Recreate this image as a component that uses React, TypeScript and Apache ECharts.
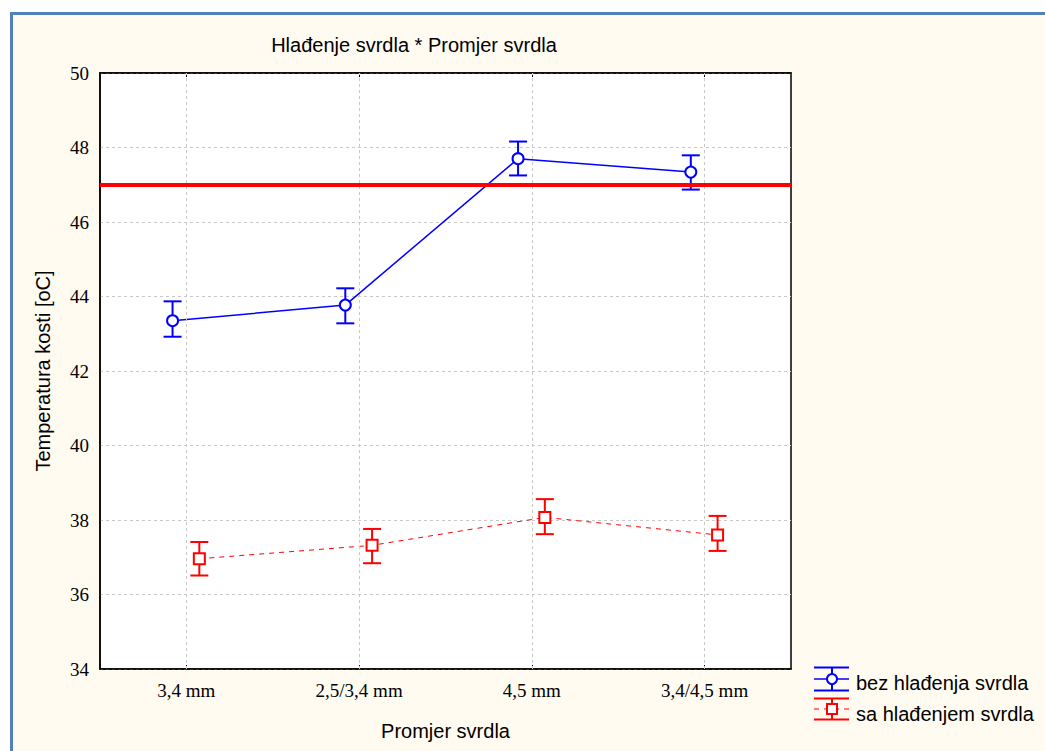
import React, { useEffect, useRef } from "react";
import * as echarts from "echarts";

const categories = ["3,4 mm", "2,5/3,4 mm", "4,5 mm", "3,4/4,5 mm"];
const bezMean = [43.35, 43.77, 47.7, 47.34];
const bezLow = [42.92, 43.28, 47.25, 46.87];
const bezHigh = [43.87, 44.22, 48.16, 47.79];
const saMean = [36.96, 37.32, 38.07, 37.6];
const saLow = [36.51, 36.84, 37.62, 37.17];
const saHigh = [37.41, 37.76, 38.56, 38.11];
const referenceLine = 47;
const yMin = 34;
const yMax = 50;
const yInterval = 2;
const seriesNames = ["bez hlađenja svrdla", "sa hlađenjem svrdla"];
const titleText = "Hlađenje svrdla * Promjer svrdla";
const xName = "Promjer svrdla";
const yName = "Temperatura kosti [oC]";

const BLUE = "#0000ff";
const RED = "#ff0000";
const CREAM = "#fffbf0";
const FRAME = "#4f81bd";
const GRIDC = "#c8c8c8";

const BLUE_OFF = -0.08;
const RED_OFF = 0.075;

function errRender(color: string) {
  return (params: any, api: any) => {
    const x = api.value(0);
    const lo = api.value(1);
    const hi = api.value(2);
    const pLo = api.coord([x, lo]);
    const pHi = api.coord([x, hi]);
    const w = 9;
    const style = { stroke: color, lineWidth: 2 };
    return {
      type: "group",
      children: [
        { type: "line", shape: { x1: pLo[0], y1: pLo[1], x2: pHi[0], y2: pHi[1] }, style },
        { type: "line", shape: { x1: pLo[0] - w, y1: pLo[1], x2: pLo[0] + w, y2: pLo[1] }, style },
        { type: "line", shape: { x1: pHi[0] - w, y1: pHi[1], x2: pHi[0] + w, y2: pHi[1] }, style },
      ],
    };
  };
}

export default function App() {
  const ref = useRef<HTMLDivElement>(null);
  useEffect(() => {
    document.body.style.margin = "0";
    const chart = echarts.init(ref.current!, null, { renderer: "svg" });
    const xs = categories.map((_, i) => i + 0.5);
    const bezPts = bezMean.map((v, i) => [xs[i] + BLUE_OFF, v]);
    const saPts = saMean.map((v, i) => [xs[i] + RED_OFF, v]);
    const bezErr = bezMean.map((_, i) => [xs[i] + BLUE_OFF, bezLow[i], bezHigh[i]]);
    const saErr = saMean.map((_, i) => [xs[i] + RED_OFF, saLow[i], saHigh[i]]);

    const lx = 814;
    const lc = 832;
    const legendFont = { fontFamily: "Liberation Sans", fontSize: 20, fill: "#000", verticalAlign: "middle" };
    const legend = [
      // blue
      { type: "line", shape: { x1: lx, y1: 667.5, x2: lx + 35, y2: 667.5 }, style: { stroke: BLUE, lineWidth: 2 } },
      { type: "line", shape: { x1: lx, y1: 679, x2: lx + 35, y2: 679 }, style: { stroke: BLUE, lineWidth: 1.5 } },
      { type: "line", shape: { x1: lx, y1: 690.5, x2: lx + 35, y2: 690.5 }, style: { stroke: BLUE, lineWidth: 2 } },
      { type: "line", shape: { x1: lc, y1: 667.5, x2: lc, y2: 690.5 }, style: { stroke: BLUE, lineWidth: 2 } },
      { type: "circle", shape: { cx: lc, cy: 679, r: 5 }, style: { fill: "#fff", stroke: BLUE, lineWidth: 2 } },
      { type: "text", x: 856, y: 683, style: { text: seriesNames[0], ...legendFont } },
      // red
      { type: "line", shape: { x1: lx, y1: 698.5, x2: lx + 35, y2: 698.5 }, style: { stroke: RED, lineWidth: 2 } },
      { type: "line", shape: { x1: lx, y1: 709, x2: lx + 35, y2: 709 }, style: { stroke: RED, lineWidth: 1, lineDash: [5, 5] } },
      { type: "line", shape: { x1: lx, y1: 719.5, x2: lx + 35, y2: 719.5 }, style: { stroke: RED, lineWidth: 2 } },
      { type: "line", shape: { x1: lc, y1: 698.5, x2: lc, y2: 719.5 }, style: { stroke: RED, lineWidth: 2 } },
      { type: "rect", shape: { x: lc - 5, y: 704, width: 10, height: 10 }, style: { fill: "#fff", stroke: RED, lineWidth: 2 } },
      { type: "text", x: 856, y: 714, style: { text: seriesNames[1], ...legendFont } },
    ].map((e: any) => ({ ...e, z: 100 }));

    chart.setOption({
      animation: false,
      backgroundColor: "#ffffff",
      title: {
        text: titleText,
        left: 409,
        top: 30,
        textAlign: "center",
        textStyle: { fontFamily: "Liberation Sans", fontSize: 20, fontWeight: "normal", color: "#000" },
      },
      graphic: [
        {
          type: "rect",
          z: -100,
          silent: true,
          shape: { x: 11.5, y: 13.5, width: 1200, height: 900 },
          style: { fill: CREAM, stroke: FRAME, lineWidth: 3 },
        },
        ...legend,
      ],
      grid: {
        left: 100,
        top: 73,
        right: 254,
        bottom: 82,
        show: true,
        backgroundColor: "#ffffff",
        borderColor: "#000",
        borderWidth: 1.5,
        containLabel: false,
      },
      xAxis: [
        {
          type: "category",
          data: categories,
          boundaryGap: true,
          position: "bottom",
          axisLine: { show: true, lineStyle: { color: "#000", width: 1.5 } },
          axisTick: { show: true, inside: true, alignWithLabel: true, length: 4, lineStyle: { color: "#000" } },
          axisLabel: { fontFamily: "Liberation Serif", fontSize: 19, color: "#000", margin: 12 },
          splitLine: { show: false },
          name: xName,
          nameLocation: "middle",
          nameGap: 52,
          nameTextStyle: { fontFamily: "Liberation Sans", fontSize: 20, color: "#000" },
        },
        {
          type: "value",
          min: 0,
          max: 4,
          show: false,
        },
        {
          type: "category",
          data: categories,
          boundaryGap: true,
          position: "top",
          axisLine: { show: true, lineStyle: { color: "#000", width: 1.5 } },
          axisTick: { show: true, inside: true, alignWithLabel: true, length: 4, lineStyle: { color: "#000" } },
          axisLabel: { show: false },
          splitLine: { show: false },
        },
      ],
      yAxis: {
        type: "value",
        min: yMin,
        max: yMax,
        interval: yInterval,
        axisLine: { show: true, lineStyle: { color: "#000", width: 1.5 } },
        axisTick: { show: false },
        axisLabel: { fontFamily: "Liberation Serif", fontSize: 19, color: "#000", margin: 11 },
        splitLine: { show: true, lineStyle: { color: GRIDC, type: [3, 3], width: 1 } },
        name: yName,
        nameLocation: "middle",
        nameGap: 47,
        nameTextStyle: { fontFamily: "Liberation Sans", fontSize: 20, color: "#000" },
      },
      series: [
        {
          type: "line",
          xAxisIndex: 1,
          data: [],
          z: 1,
          silent: true,
          markLine: {
            symbol: "none",
            silent: true,
            label: { show: false },
            data: xs.map((x) => ({ xAxis: x, lineStyle: { color: GRIDC, type: [3, 3], width: 1 } })),
          },
        },
        {
          type: "line",
          xAxisIndex: 1,
          data: [],
          z: 4,
          silent: true,
          markLine: {
            symbol: "none",
            silent: true,
            label: { show: false },
            data: [{ yAxis: referenceLine, lineStyle: { color: RED, type: "solid", width: 4 } }],
          },
        },
        {
          type: "custom",
          xAxisIndex: 1,
          data: bezErr,
          z: 2,
          encode: { x: 0, y: [1, 2] },
          renderItem: errRender(BLUE),
        },
        {
          type: "custom",
          xAxisIndex: 1,
          data: saErr,
          z: 2,
          encode: { x: 0, y: [1, 2] },
          renderItem: errRender(RED),
        },
        {
          name: seriesNames[0],
          type: "line",
          xAxisIndex: 1,
          data: bezPts,
          z: 3,
          symbol: "circle",
          symbolSize: 11,
          lineStyle: { color: BLUE, width: 1.5 },
          itemStyle: { color: "#fff", borderColor: BLUE, borderWidth: 2 },
        },
        {
          name: seriesNames[1],
          type: "line",
          xAxisIndex: 1,
          data: saPts,
          z: 3,
          symbol: "rect",
          symbolSize: 11,
          lineStyle: { color: RED, width: 1, type: [5, 5] },
          itemStyle: { color: "#fff", borderColor: RED, borderWidth: 2 },
        },
      ],
    });
    return () => chart.dispose();
  }, []);
  return <div ref={ref} style={{ width: 1045, height: 751 }} />;
}
